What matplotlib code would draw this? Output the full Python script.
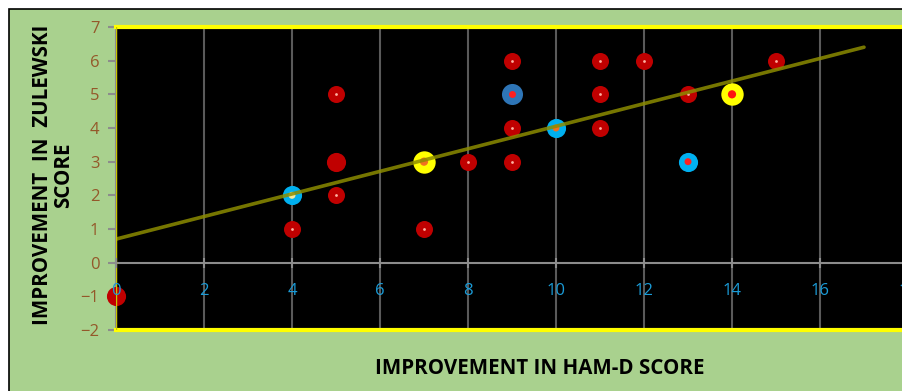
import numpy as np
import matplotlib
matplotlib.use("Agg")
import matplotlib.pyplot as plt
from matplotlib.patches import Rectangle

plt.rcParams['font.family'] = ['Open Sans', 'DejaVu Sans']

# ===data===
# plain red points
red_x = [4, 5, 5, 7, 8, 9, 9, 9, 11, 11, 11, 12, 13, 15]
red_y = [1, 5, 2, 1, 3, 6, 4, 3, 6, 5, 4, 6, 5, 6]
# bigger red points without centre dot
red_big_x = [0, 5]
red_big_y = [-1, 3]
# cyan points
cyan_x = [4, 10, 13]
cyan_y = [2, 4, 3]
cyan_dot = ['#f5e9a0', '#f07020', '#ff2020']
# steel blue point
blue_x = [9]
blue_y = [5]
# yellow points
yel_x = [7, 14]
yel_y = [3, 5]
yel_dot = ['#f07020', '#ff1010']

# trendline (y at x=0 and at x=17)
trend_x = [0, 17]
trend_y = [0.7, 6.4]

xticks = [0, 2, 4, 6, 8, 10, 12, 14, 16, 18]
yticks = [-2, -1, 0, 1, 2, 3, 4, 5, 6, 7]

W, H = 903, 391
fig = plt.figure(figsize=(W / 100, H / 100), dpi=100)
fig.patch.set_facecolor('white')
# green chart area with black border
fig.patches.append(Rectangle((9 / W, -0.01), 1.0, (H - 9) / H + 0.01,
                             transform=fig.transFigure, facecolor='#a9d18e',
                             edgecolor='black', linewidth=1.2, zorder=-10))

ax = fig.add_axes([116 / W, 61 / H, 792 / W, 303 / H])
ax.set_zorder(1)
ax.set_facecolor('black')
ax.set_xlim(0, 18)
ax.set_ylim(-2, 7)

# vertical grid
for xv in xticks[1:]:
    ax.axvline(xv, color='#5a5a5a', lw=1.5, zorder=1)

ax.scatter(red_x, red_y, s=150, color='#c00000', zorder=3, linewidths=0)
ax.scatter(red_x, red_y, s=4, color='#ffb0a0', zorder=4, linewidths=0)
ax.scatter(red_big_x, red_big_y, s=190, color='#c00000', zorder=3, linewidths=0,
           clip_on=False)
ax.scatter(cyan_x, cyan_y, s=190, color='#00b0f0', zorder=3, linewidths=0)
ax.scatter(cyan_x, cyan_y, s=25, color=cyan_dot, zorder=4, linewidths=0)
ax.scatter(blue_x, blue_y, s=230, color='#2e75b6', zorder=3, linewidths=0)
ax.scatter(blue_x, blue_y, s=25, color='#ff2020', zorder=4, linewidths=0)
ax.scatter(yel_x, yel_y, s=260, color='#ffff00', zorder=3, linewidths=0)
ax.scatter(yel_x, yel_y, s=35, color=yel_dot, zorder=4, linewidths=0)

# linear trendline
ax.plot(trend_x, trend_y, color='#8c8c00', lw=2.6, alpha=0.85, zorder=5,
        solid_capstyle='round')

# axes and frame
ax.spines['bottom'].set_position(('data', 0))
ax.spines['bottom'].set_color('#8c8c8c')
ax.spines['bottom'].set_linewidth(1.5)
ax.spines['left'].set_color('#8c8c8c')
ax.spines['left'].set_linewidth(1.5)
ax.spines['top'].set_visible(False)
ax.spines['right'].set_visible(False)
ax.axhline(7, color='#ffff00', lw=3, zorder=6, clip_on=False)
ax.axhline(-2, color='#ffff00', lw=3, zorder=6, clip_on=False)
ax.axvline(0, color='#c8c800', lw=1, zorder=6)

ax.set_xticks(xticks)
ax.set_yticks(yticks)
ax.tick_params(axis='x', direction='inout', length=7, width=1.5, color='#8c8c8c',
               labelcolor='#1a9bd7', labelsize=12, pad=11)
ax.tick_params(axis='y', direction='out', length=6, width=1.5, color='#8c8c8c',
               labelcolor='#94582a', labelsize=12, pad=6)
ax.xaxis.set_zorder(7)

fig.text(53 / W, 1 - 175 / H, 'IMPROVEMENT  IN  ZULEWSKI\nSCORE', rotation=90,
         ha='center', va='center', fontsize=14.8, fontweight='bold',
         color='black', linespacing=1.0, multialignment='center')
fig.text(540 / W, 1 - 368 / H, 'IMPROVEMENT IN HAM-D SCORE', ha='center',
         va='center', fontsize=14.8, fontweight='bold', color='black')

fig.savefig('out.png', dpi=100)
